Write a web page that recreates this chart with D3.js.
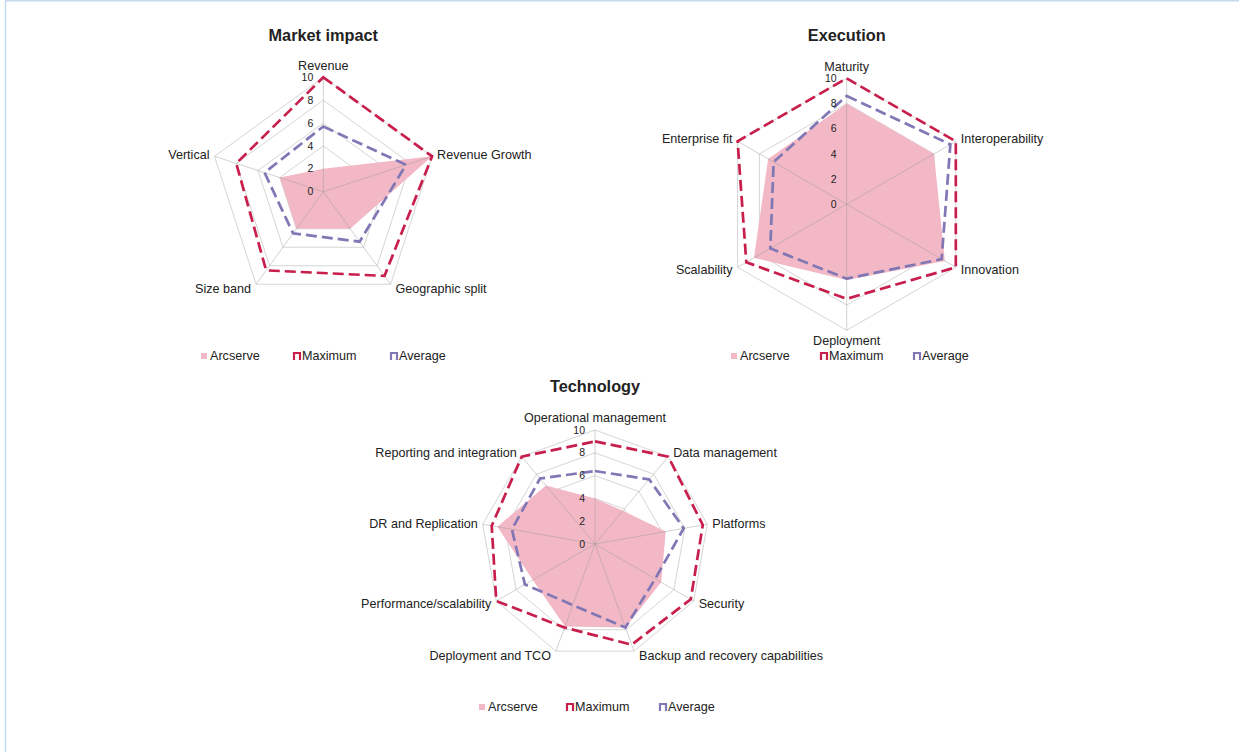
<!DOCTYPE html>
<html>
<head>
<meta charset="utf-8">
<script src="https://cdn.jsdelivr.net/npm/d3@7"></script>
<style>
  body { margin: 0; background: #fff; }
  text { font-family: "Liberation Sans", Arial, sans-serif; fill: #222; }
</style>
</head>
<body>
<div id="chart-container"></div>
<script>
// ---- data ----
const marketAxes = ['Revenue', 'Revenue Growth', 'Geographic split', 'Size band', 'Vertical'];
const marketArcserve = [2, 10, 4, 4, 4];
const marketMaximum = [10, 10, 9.1, 8.5, 8];
const marketAverage = [5.7, 7.6, 5.4, 4.5, 5.4];

const execAxes = ['Maturity', 'Interoperability', 'Innovation', 'Deployment', 'Scalability', 'Enterprise fit'];
const execArcserve = [8, 8, 9, 6, 8.5, 7.2];
const execMaximum = [10, 10, 10, 7.5, 9.2, 10];
const execAverage = [8.6, 9.5, 8.7, 5.9, 7, 6.7];

const techAxes = ['Operational management', 'Data management', 'Platforms', 'Security',
  'Backup and recovery capabilities', 'Deployment and TCO', 'Performance/scalability',
  'DR and Replication', 'Reporting and integration'];
const techArcserve = [4, 3.8, 6.3, 6.7, 7.8, 7.7, 6.3, 8.7, 6.7];
const techMaximum = [9, 10, 9.6, 9.7, 9.4, 7.8, 10, 9.2, 10];
const techAverage = [6.4, 7.4, 7.9, 6.1, 7.8, 5.7, 7.1, 7.4, 7.5];

const seriesNames = ['Arcserve', 'Maximum', 'Average'];
const valueTicks = [0, 2, 4, 6, 8, 10];

const colors = { arcserve: '#f2b8c6', maximum: '#c81e4b', average: '#8077b4', grid: '#d6d6d6' };
const svgCanvas = { width: 1239, height: 753 };

const svg = d3.select('#chart-container')
  .append('svg')
  .attr('width', svgCanvas.width)
  .attr('height', svgCanvas.height);

// page frame (light blue)
svg.append('line').attr('x1', 5).attr('x2', svgCanvas.width).attr('y1', 0.75).attr('y2', 0.75)
  .attr('stroke', '#c5d9f1').attr('stroke-width', 1.5);
svg.append('line').attr('x1', 5.5).attr('x2', 5.5).attr('y1', 0).attr('y2', 752)
  .attr('stroke', '#c5d9f1').attr('stroke-width', 1.5);

function drawRadar(cfg) {
  const n = cfg.axes.length;
  const r = d3.scaleLinear().domain([0, 10]).range([0, cfg.radius]);
  const angle = d3.scaleLinear().domain([0, n]).range([0, 2 * Math.PI]);
  const ring = d3.lineRadial()
    .angle((d, i) => angle(i))
    .radius(d => r(d))
    .curve(d3.curveLinearClosed);

  // title
  svg.append('text')
    .attr('x', cfg.cx).attr('y', cfg.titleY)
    .attr('text-anchor', 'middle')
    .style('font-size', '16.3px').style('font-weight', 'bold')
    .text(cfg.title);

  const g = svg.append('g').attr('transform', `translate(${cfg.cx},${cfg.cy})`);

  // grid rings
  g.selectAll('.ring')
    .data(valueTicks.filter(t => t > 0))
    .enter().append('path')
    .attr('class', 'ring')
    .attr('d', t => ring(cfg.axes.map(() => t)))
    .attr('fill', 'none')
    .attr('stroke', colors.grid)
    .attr('stroke-width', 1);

  // Arcserve area
  g.append('path')
    .attr('d', ring(cfg.arcserve))
    .attr('fill', colors.arcserve);

  // spokes
  g.selectAll('.spoke')
    .data(cfg.axes)
    .enter().append('line')
    .attr('class', 'spoke')
    .attr('x1', 0).attr('y1', 0)
    .attr('x2', (d, i) => r(10) * Math.sin(angle(i)))
    .attr('y2', (d, i) => -r(10) * Math.cos(angle(i)))
    .attr('stroke', '#9a9a9a')
    .attr('stroke-opacity', 0.45)
    .attr('stroke-width', 1);

  // dashed series
  [[cfg.maximum, colors.maximum], [cfg.average, colors.average]].forEach(([vals, col]) => {
    g.append('path')
      .attr('d', ring(vals))
      .attr('fill', 'none')
      .attr('stroke', col)
      .attr('stroke-width', 2.7)
      .attr('stroke-dasharray', '11,5')
      .attr('stroke-linejoin', 'miter');
  });

  // value tick labels
  g.selectAll('.tick-label')
    .data(valueTicks)
    .enter().append('text')
    .attr('x', -10)
    .attr('y', d => -r(d))
    .attr('dy', '0.35em')
    .attr('text-anchor', 'end')
    .style('font-size', '10.5px')
    .text(d => d);

  // category labels
  g.selectAll('.cat-label')
    .data(cfg.axes)
    .enter().append('text')
    .attr('x', (d, i) => {
      const s = Math.sin(angle(i));
      const vx = r(10) * s;
      return Math.abs(s) < 0.1 ? vx : vx + 5 * Math.sign(s);
    })
    .attr('y', (d, i) => {
      const c = Math.cos(angle(i));
      const vy = -r(10) * c;
      if (c > 0.95) return vy - 12;
      if (c < -0.95) return vy + 10.5;
      return vy - 5 * c;
    })
    .attr('dy', '0.35em')
    .attr('text-anchor', (d, i) => {
      const s = Math.sin(angle(i));
      return Math.abs(s) < 0.1 ? 'middle' : (s > 0 ? 'start' : 'end');
    })
    .style('font-size', '12.6px')
    .text(d => d);

  // legend
  const lg = svg.append('g').attr('transform', `translate(0,${cfg.legendY})`);
  seriesNames.forEach((name, k) => {
    const x = cfg.legendX[k];
    if (k === 0) {
      lg.append('rect').attr('x', x).attr('y', -3).attr('width', 6).attr('height', 6)
        .attr('fill', colors.arcserve);
    } else {
      const col = k === 1 ? colors.maximum : colors.average;
      lg.append('path')
        .attr('d', `M${x + 1},4 V-3 H${x + 7} V4`)
        .attr('fill', 'none').attr('stroke', col).attr('stroke-width', 2.2);
    }
    lg.append('text')
      .attr('x', x + 9).attr('y', 0).attr('dy', '0.35em')
      .style('font-size', '12.6px')
      .text(name);
  });
}

drawRadar({
  title: 'Market impact', titleY: 41, cx: 323.3, cy: 191.7, radius: 114.4,
  axes: marketAxes, arcserve: marketArcserve, maximum: marketMaximum, average: marketAverage,
  legendY: 356, legendX: [201, 293, 390]
});

drawRadar({
  title: 'Execution', titleY: 41, cx: 846.7, cy: 204.3, radius: 126,
  axes: execAxes, arcserve: execArcserve, maximum: execMaximum, average: execAverage,
  legendY: 356, legendX: [731, 820, 913]
});

drawRadar({
  title: 'Technology', titleY: 392, cx: 595, cy: 544, radius: 114,
  axes: techAxes, arcserve: techArcserve, maximum: techMaximum, average: techAverage,
  legendY: 707, legendX: [479, 566, 659]
});
</script>
</body>
</html>
